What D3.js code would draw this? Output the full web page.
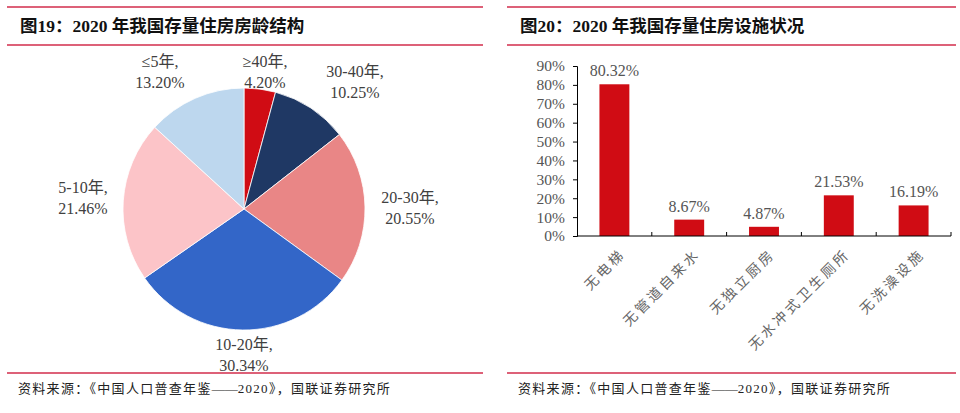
<!DOCTYPE html>
<html><head><meta charset="utf-8">
<script src="https://cdn.jsdelivr.net/npm/d3@7"></script>
<style>body{margin:0;background:#fff}svg{display:block}</style>
</head><body>
<svg id="c" width="960" height="413"></svg>
<script>
const pieLabels = ["≥40年", "30-40年", "20-30年", "10-20年", "5-10年", "≤5年"];
const pieValues = [4.20, 10.25, 20.55, 30.34, 21.46, 13.20];
const pieColors = ["#D00C14", "#1F3864", "#E98686", "#3366C8", "#FCC4C8", "#BDD7EE"];
const barCategories = ["无电梯", "无管道自来水", "无独立厨房", "无水冲式卫生厕所", "无洗澡设施"];
const barValues = [80.32, 8.67, 4.87, 21.53, 16.19];
const yTicks = [0, 10, 20, 30, 40, 50, 60, 70, 80, 90];

const svg = d3.select("#c");
const serif = "'Liberation Serif','Times New Roman','Noto Sans CJK SC',serif";
const red = "#D22D4B";
const txt = "#404040";

function frame(x0, x1, title) {
  svg.append("line").attr("x1", x0).attr("x2", x1).attr("y1", 7).attr("y2", 7).attr("stroke", red).attr("stroke-width", 1.3);
  svg.append("line").attr("x1", x0).attr("x2", x1).attr("y1", 45).attr("y2", 45).attr("stroke", red).attr("stroke-width", 1.3);
  svg.append("line").attr("x1", x0).attr("x2", x1).attr("y1", 373).attr("y2", 373).attr("stroke", red).attr("stroke-width", 1.3);
  svg.append("text").attr("x", x0 + 13).attr("y", 32).attr("font-family", serif).attr("font-weight", "bold")
    .attr("font-size", 17.5).attr("fill", "#111").text(title);
  const f = svg.append("text").attr("x", x0 + 11).attr("y", 393).attr("font-family", serif)
    .attr("font-size", 13).attr("fill", "#222");
  f.append("tspan").attr("letter-spacing", 1.3).text("资料来源：《中国人口普查年鉴");
  f.append("tspan").attr("letter-spacing", 0).text("——");
  f.append("tspan").attr("letter-spacing", 1.3).text("2020》，国联证券研究所");
}
frame(7, 483, "图19：2020 年我国存量住房房龄结构");
frame(507, 956, "图20：2020 年我国存量住房设施状况");

// Pie
const cx = 244, cy = 209, R = 121;
const pie = d3.pie().sort(null).value(d => d)(pieValues);
const arc = d3.arc().innerRadius(0).outerRadius(R);
const gp = svg.append("g").attr("transform", `translate(${cx},${cy})`);
gp.selectAll("path").data(pie).join("path").attr("d", arc)
  .attr("fill", (d, i) => pieColors[i]).attr("stroke", "#fff").attr("stroke-width", 0.8);

const labelPos = [[265, 67], [355, 77], [410, 203], [244, 350], [83, 193], [160, 67]];
pie.forEach((d, i) => {
  const t = svg.append("text").attr("text-anchor", "middle").attr("font-family", serif)
    .attr("font-size", 16).attr("fill", txt);
  t.append("tspan").attr("x", labelPos[i][0]).attr("y", labelPos[i][1]).text(pieLabels[i] + ",");
  t.append("tspan").attr("x", labelPos[i][0]).attr("y", labelPos[i][1] + 21).text(pieValues[i].toFixed(2) + "%");
});

// Bars
const x = d3.scaleBand().domain(barCategories).range([577, 951]).paddingInner(0.6).paddingOuter(0.3);
const y = d3.scaleLinear().domain([0, 90]).range([236, 66]);
const gb = svg.append("g");
const ya = gb.append("g").attr("transform", "translate(577,0)")
  .call(d3.axisLeft(y).tickValues(yTicks).tickFormat(d => d + "%").tickSize(4).tickPadding(8));
ya.select(".domain").attr("stroke", "#000");
ya.selectAll(".tick line").attr("stroke", "#000");
ya.selectAll("text").attr("font-family", serif).attr("font-size", 15.5).attr("fill", "#555");
gb.selectAll("rect").data(barValues).join("rect")
  .attr("x", (d, i) => x(barCategories[i])).attr("width", x.bandwidth())
  .attr("y", d => y(d)).attr("height", d => y(0) - y(d)).attr("fill", "#D00C14");
gb.selectAll(".vl").data(barValues).join("text").attr("class", "vl")
  .attr("x", (d, i) => x(barCategories[i]) + x.bandwidth() / 2).attr("y", d => y(d) - 8)
  .attr("text-anchor", "middle").attr("font-family", serif).attr("font-size", 16).attr("fill", "#555")
  .text(d => d.toFixed(2) + "%");
const xa = gb.append("g");
xa.append("line").attr("x1", 577).attr("x2", 951).attr("y1", y(0)).attr("y2", y(0)).attr("stroke", "#000");
barCategories.forEach((c, i) => {
  const tx = 577 + (i + 1) * (374 / barCategories.length);
  xa.append("line").attr("x1", tx).attr("x2", tx).attr("y1", y(0)).attr("y2", y(0) - 4).attr("stroke", "#000");
});
barCategories.forEach((c, i) => {
  const px = x(c) + x.bandwidth() / 2 + 5, py = y(0) + 12;
  gb.append("text").attr("transform", `translate(${px},${py}) rotate(-45)`).attr("text-anchor", "end")
    .attr("font-family", "'Noto Sans CJK SC',sans-serif").attr("font-size", 14).attr("letter-spacing", 3)
    .attr("fill", "#666").attr("dy", "0.7em").text(c);
});
</script>
</body></html>
